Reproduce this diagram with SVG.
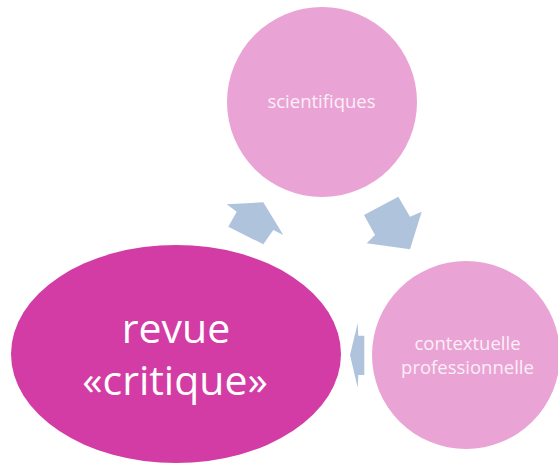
<svg xmlns="http://www.w3.org/2000/svg" width="558" height="467" viewBox="0 0 558 467">
  <style>
    .small { fill: #EAA3D5; }
    .main { fill: #D33BA5; }
    .arrow { fill: #B0C3DD; }
    text { font-family: "Open Sans", "Liberation Sans", sans-serif; fill: #FFFFFF; text-anchor: middle; }
    .lbl { font-size: 18.5px; fill: #FBEFF7; }
    .big { font-size: 41px; }
  </style>
  <rect width="558" height="467" fill="#FFFFFF"/>

  <!-- cycle arrows -->
  <g id="connectors">
    <polygon class="arrow" points="226.7,204.3 263.3,202.3 283.3,235 273.3,230 263.3,244.3 228.3,226.7 236.7,211.7"/>
    <polygon class="arrow" points="364,215 398.3,196.7 410,216.7 421.7,211.7 410,249.3 366.7,243.3 375,235"/>
    <polygon class="arrow" points="350,355 357.7,323.3 358.3,335.7 364.3,335.7 364.3,375 358.3,375 357.7,387.7"/>
  </g>

  <g id="node-scientifiques">
    <circle class="small" cx="322" cy="102" r="95"/>
    <text class="lbl" x="321.5" y="108">scientifiques</text>
  </g>

  <g id="node-contextuelle">
    <circle class="small" cx="466" cy="355" r="94"/>
    <text class="lbl" x="467.5" y="350">contextuelle</text>
    <text class="lbl" x="467.5" y="374">professionnelle</text>
  </g>

  <g id="node-revue">
    <ellipse class="main" cx="176" cy="354" rx="165" ry="109"/>
    <text class="big" x="176" y="343">revue</text>
    <text class="big" x="175" y="395">«critique»</text>
  </g>
</svg>
